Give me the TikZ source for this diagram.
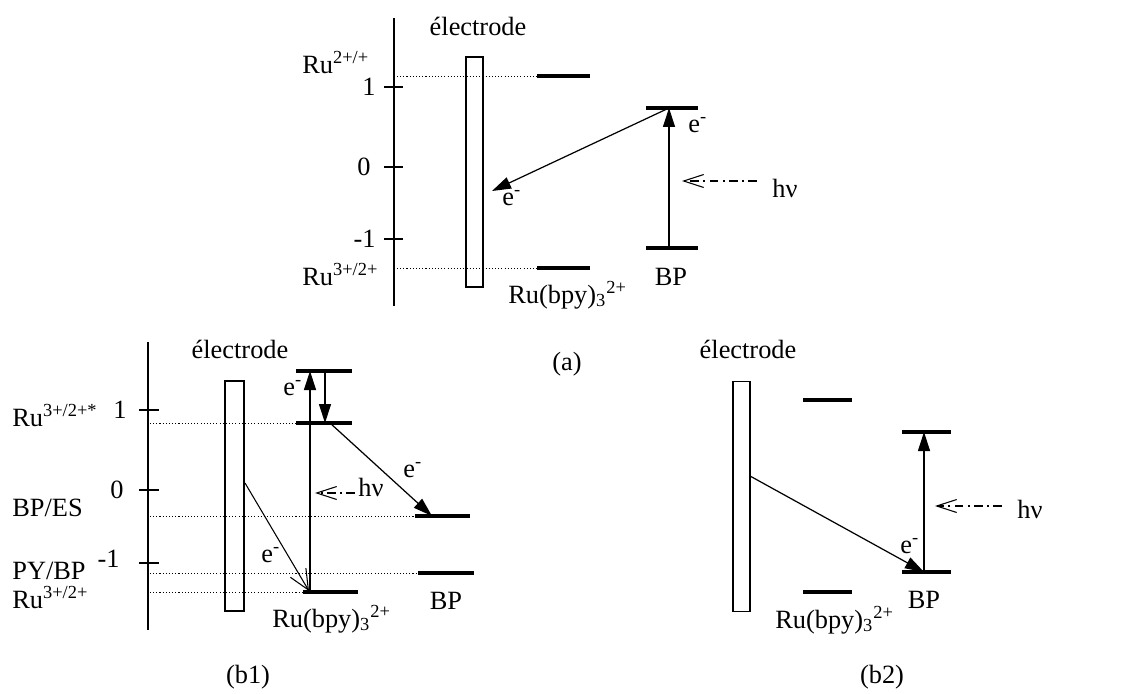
\documentclass[tikz,border=0pt]{standalone}
\usepackage{fontspec}
\setmainfont{Liberation Serif}
\usetikzlibrary{arrows.meta,positioning}

\begin{document}
\begin{tikzpicture}[x=0.02cm, y=-0.02cm,
  lbl/.style={font=\fontsize{15}{18}\selectfont, inner sep=0pt},
  axisline/.style={line width=0.6pt},
  tickline/.style={line width=0.6pt},
  levelline/.style={line width=1.8pt},
  dotline/.style={line width=0.5pt, dash pattern=on 0.6pt off 1.2pt},
  elbox/.style={draw, line width=0.7pt, minimum width=0.34cm, minimum height=4.6cm, inner sep=0pt},
  etrans/.style={line width=0.7pt, -{Triangle[length=0.38cm, width=0.24cm]}},
  ebarb/.style={line width=0.6pt, -{Straight Barb[length=0.4cm, width=0.36cm]}},
  photon/.style={line width=0.6pt, dash pattern=on 5pt off 2.5pt on 1pt off 2.5pt,
    -{Straight Barb[length=0.4cm, width=0.26cm]}}
]
\useasboundingbox (0,0) rectangle (1129,693);

% ---- (a)
\coordinate (aAxT) at (394,18);  \coordinate (aAxB) at (394,306);
\draw[axisline] (aAxT) -- (aAxB);
\foreach \yy/\tk in {87/1, 167/0, 239/m1} {
  \coordinate (aT\tk L) at (384,\yy); \coordinate (aT\tk R) at (403,\yy);
  \draw[tickline] (aT\tk L) -- (aT\tk R);
}
\node[lbl, anchor=base east] (aN1)  at (376,95)  {1};
\node[lbl, anchor=base east] (aN0)  at (371,175) {0};
\node[lbl, anchor=base east] (aNm1) at (376,247) {-1};
\node[lbl, anchor=base west] (aRuUp) at (302,73)  {Ru\textsuperscript{2+/+}};
\node[lbl, anchor=base west] (aRuLo) at (302,285) {Ru\textsuperscript{3+/2+}};

\coordinate (aDot1) at (397,76);  \coordinate (aRu1L) at (537,76);  \coordinate (aRu1R) at (590,76);
\coordinate (aDot2) at (397,268); \coordinate (aRu2L) at (537,268); \coordinate (aRu2R) at (590,268);
\draw[dotline] (aDot1) -- (aRu1L);
\draw[dotline] (aDot2) -- (aRu2L);
\draw[levelline] (aRu1L) -- (aRu1R);
\draw[levelline] (aRu2L) -- (aRu2R);

\node[elbox] (aEl) at (474.5,172) {};
\node[lbl, anchor=base] (aElLbl) at (478,35) {électrode};

\coordinate (aBP1L) at (646,108); \coordinate (aBP1R) at (698,108);
\coordinate (aBP2L) at (646,248); \coordinate (aBP2R) at (698,248);
\draw[levelline] (aBP1L) -- (aBP1R);
\draw[levelline] (aBP2L) -- (aBP2R);
\coordinate (aBPup) at (669,108); \coordinate (aBPdn) at (669,248);
\draw[etrans] (aBPdn) -- (aBPup);
\coordinate (aEin) at (492,191);
\draw[etrans] (aBPup) -- (aEin);
\node[lbl, anchor=base west] (aE1) at (688,132) {e\textsuperscript{-}};
\node[lbl, anchor=base west] (aE2) at (502,205) {e\textsuperscript{-}};
\coordinate (aHvS) at (757,181); \coordinate (aHvE) at (682,181);
\draw[photon] (aHvS) -- (aHvE);
\node[lbl, anchor=base west] (aHv) at (772,197) {hν};
\node[lbl, anchor=base] (aBP) at (671,285) {BP};
\node[lbl, anchor=base west] (aRuB) at (508,303) {Ru(bpy)\textsubscript{3}\textsuperscript{2+}};
\node[lbl, anchor=base] (aCap) at (567,370) {(a)};

% ---- (b1)
\coordinate (bAxT) at (148,342); \coordinate (bAxB) at (148,630);
\draw[axisline] (bAxT) -- (bAxB);
\foreach \yy/\tk in {410/1, 490/0, 563/m1} {
  \coordinate (bT\tk L) at (139,\yy); \coordinate (bT\tk R) at (159,\yy);
  \draw[tickline] (bT\tk L) -- (bT\tk R);
}
\node[lbl, anchor=base east] (bN1)  at (127,418) {1};
\node[lbl, anchor=base east] (bN0)  at (124,498) {0};
\node[lbl, anchor=base east] (bNm1) at (120,567) {-1};
\node[lbl, anchor=base west] (bRuSt) at (12,426) {Ru\textsuperscript{3+/2+*}};
\node[lbl, anchor=base west] (bBPES) at (12,516) {BP/ES};
\node[lbl, anchor=base west] (bPYBP) at (12,579) {PY/BP};
\node[lbl, anchor=base west] (bRuLo) at (12,608) {Ru\textsuperscript{3+/2+}};

\foreach \yy/\xl/\nm in {423/296/St, 516/415/ES, 573/418/PY, 592/303/Lo} {
  \coordinate (bDot\nm) at (150,\yy); \coordinate (bLev\nm) at (\xl,\yy);
  \draw[dotline] (bDot\nm) -- (bLev\nm);
}
\coordinate (bTopL) at (296,371); \coordinate (bTopR) at (352,371);
\coordinate (bStR) at (352,423);
\coordinate (bESR) at (470,516);
\coordinate (bPYR) at (474,573);
\coordinate (bLoR) at (358,592);
\draw[levelline] (bTopL) -- (bTopR);
\draw[levelline] (bLevSt) -- (bStR);
\draw[levelline] (bLevES) -- (bESR);
\draw[levelline] (bLevPY) -- (bPYR);
\draw[levelline] (bLevLo) -- (bLoR);

\node[elbox, minimum width=0.38cm] (bEl) at (234.5,496) {};
\node[lbl, anchor=base] (bElLbl) at (240,358) {électrode};

\coordinate (bUpS) at (310,592); \coordinate (bUpE) at (310,371);
\draw[etrans] (bUpS) -- (bUpE);
\coordinate (bDnS) at (325,371); \coordinate (bDnE) at (325,423);
\draw[etrans] (bDnS) -- (bDnE);
\coordinate (bDgS) at (330,423); \coordinate (bDgE) at (432,516);
\draw[etrans] (bDgS) -- (bDgE);
\coordinate (bElS) at (245,483); \coordinate (bElE) at (309,591);
\draw[ebarb] (bElS) -- (bElE);
\coordinate (bHvS) at (355,493); \coordinate (bHvE) at (315,493);
\draw[photon] (bHvS) -- (bHvE);

\node[lbl, anchor=base west] (bE1) at (283,395) {e\textsuperscript{-}};
\node[lbl, anchor=base west] (bE2) at (403,477) {e\textsuperscript{-}};
\node[lbl, anchor=base west] (bE3) at (261,562) {e\textsuperscript{-}};
\node[lbl, anchor=base west] (bHv) at (358,496) {hν};
\node[lbl, anchor=base west] (bRuB) at (272,627) {Ru(bpy)\textsubscript{3}\textsuperscript{2+}};
\node[lbl, anchor=base] (bBP) at (446,609) {BP};
\node[lbl, anchor=base] (bCap) at (248,683) {(b1)};

% ---- (b2)
\node[elbox] (cEl) at (741.5,496.5) {};
\node[lbl, anchor=base] (cElLbl) at (748,358) {électrode};
\coordinate (cRu1L) at (803,400); \coordinate (cRu1R) at (852,400);
\coordinate (cRu2L) at (803,592); \coordinate (cRu2R) at (852,592);
\coordinate (cBP1L) at (902,432); \coordinate (cBP1R) at (951,432);
\coordinate (cBP2L) at (902,572); \coordinate (cBP2R) at (951,572);
\draw[levelline] (cRu1L) -- (cRu1R);
\draw[levelline] (cRu2L) -- (cRu2R);
\draw[levelline] (cBP1L) -- (cBP1R);
\draw[levelline] (cBP2L) -- (cBP2R);
\coordinate (cBPdn) at (924,572); \coordinate (cBPup) at (924,432);
\draw[etrans] (cBPdn) -- (cBPup);
\coordinate (cElS) at (750,476);
\draw[etrans] (cElS) -- (cBPdn);
\coordinate (cHvS) at (1002,506); \coordinate (cHvE) at (935,506);
\draw[photon] (cHvS) -- (cHvE);
\node[lbl, anchor=base west] (cE1) at (900,553) {e\textsuperscript{-}};
\node[lbl, anchor=base west] (cHv) at (1017,518) {hν};
\node[lbl, anchor=base west] (cRuB) at (775,628) {Ru(bpy)\textsubscript{3}\textsuperscript{2+}};
\node[lbl, anchor=base] (cBP) at (924,608) {BP};
\node[lbl, anchor=base] (cCap) at (882,683) {(b2)};
\end{tikzpicture}
\end{document}
